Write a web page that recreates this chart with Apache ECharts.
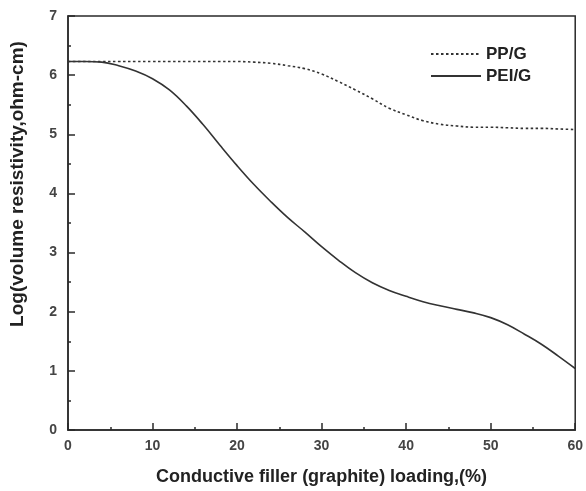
<!DOCTYPE html>
<html>
<head>
<meta charset="utf-8">
<script src="https://cdn.jsdelivr.net/npm/echarts@6/dist/echarts.min.js"></script>
<style>
  html, body { margin: 0; padding: 0; background: #fff; }
  #chart { width: 586px; height: 491px; }
</style>
</head>
<body>
<div id="chart"></div>
<script>
// graphite loading (%)
const loading = [0, 2, 4, 6, 8, 10, 12, 14, 16, 18, 20, 22, 24, 26, 28, 30,
  32, 34, 36, 38, 40, 42, 44, 46, 48, 50, 52, 54, 56, 58, 60];
// log volume resistivity
const ppG = [6.23, 6.23, 6.23, 6.23, 6.23, 6.23, 6.23, 6.23, 6.23, 6.23, 6.23, 6.22, 6.20, 6.16, 6.11, 6.02,
  5.89, 5.75, 5.60, 5.44, 5.33, 5.23, 5.17, 5.14, 5.12, 5.12, 5.11, 5.10, 5.10, 5.09, 5.08];
const peiG = [6.23, 6.23, 6.22, 6.16, 6.07, 5.94, 5.75, 5.48, 5.16, 4.81, 4.47, 4.15, 3.86, 3.59, 3.35, 3.10,
  2.87, 2.66, 2.49, 2.36, 2.26, 2.17, 2.10, 2.04, 1.98, 1.90, 1.78, 1.62, 1.45, 1.25, 1.04];

const font = '"Liberation Sans", Arial, sans-serif';
const ink = '#2a2a2a';

const chart = echarts.init(document.getElementById('chart'), null, { renderer: 'canvas' });

chart.setOption({
  animation: false,
  backgroundColor: '#fff',
  grid: {
    left: 68, right: 6, top: 16, bottom: 59,
    show: true, borderColor: ink, borderWidth: 1.5
  },
  legend: {
    orient: 'vertical',
    left: 425, top: 40,
    itemWidth: 50, itemHeight: 14, itemGap: 4, itemTextGap: 3,
    itemStyle: { opacity: 0 },
    textStyle: { fontFamily: font, fontWeight: 'bold', fontSize: 17, color: '#222', lineHeight: 18 },
    data: ['PP/G', 'PEI/G']
  },
  xAxis: {
    type: 'value', min: 0, max: 60, interval: 10,
    name: 'Conductive filler (graphite) loading,(%)',
    nameLocation: 'middle', nameGap: 38,
    nameTextStyle: { fontFamily: font, fontWeight: 'bold', fontSize: 18, color: '#222' },
    axisLine: { lineStyle: { color: ink, width: 1.5 } },
    axisTick: { inside: true, length: 7, lineStyle: { color: ink, width: 1.5 } },
    minorTick: { show: true, splitNumber: 2, length: 3, lineStyle: { color: ink, width: 1.5 } },
    axisLabel: { margin: 9, fontFamily: font, fontWeight: 'bold', fontSize: 14, color: '#444' },
    splitLine: { show: false }
  },
  yAxis: {
    type: 'value', min: 0, max: 7, interval: 1,
    name: 'Log(volume resistivity,ohm-cm)',
    nameLocation: 'middle', nameGap: 41, nameRotate: 90,
    nameTextStyle: { fontFamily: font, fontWeight: 'bold', fontSize: 19, color: '#222', padding: [0, 0, 0, 78] },
    axisLine: { lineStyle: { color: ink, width: 1.5 } },
    axisTick: { inside: true, length: 7, lineStyle: { color: ink, width: 1.5 } },
    minorTick: { show: true, splitNumber: 2, length: 3, lineStyle: { color: ink, width: 1.5 } },
    axisLabel: { margin: 11, fontFamily: font, fontWeight: 'bold', fontSize: 14, color: '#444' },
    splitLine: { show: false }
  },
  series: [
    {
      name: 'PP/G', type: 'line', smooth: 0.4, symbol: 'none',
      data: loading.map((x, i) => [x, ppG[i]]),
      lineStyle: { color: '#333', width: 1.6, type: [2.5, 2.5] },
      itemStyle: { color: '#333' }
    },
    {
      name: 'PEI/G', type: 'line', smooth: 0.4, symbol: 'none',
      data: loading.map((x, i) => [x, peiG[i]]),
      lineStyle: { color: '#333', width: 1.6 },
      itemStyle: { color: '#333' }
    }
  ]
});
</script>
</body>
</html>
